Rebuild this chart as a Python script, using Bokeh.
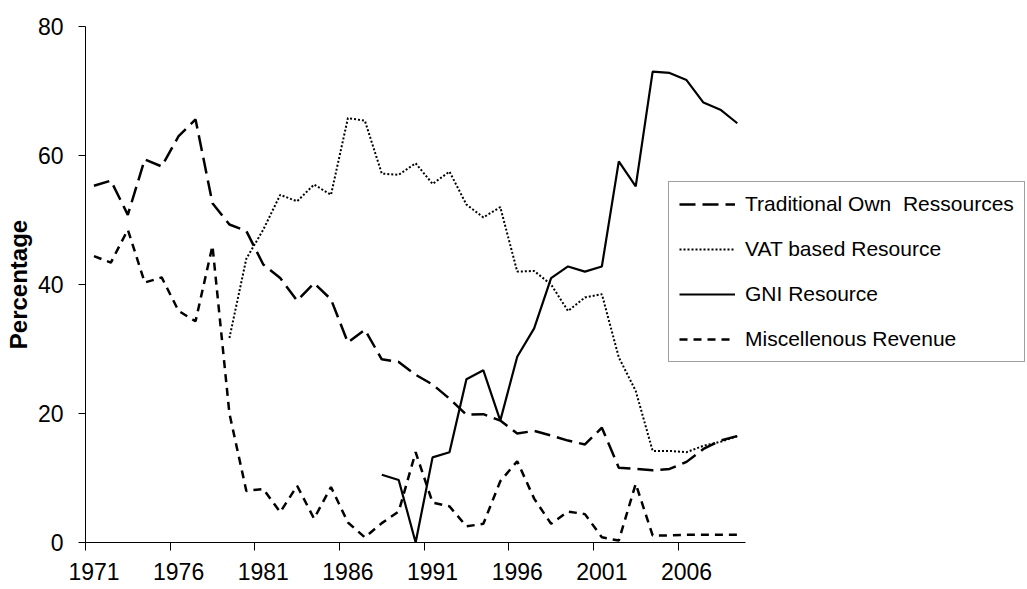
import math
from bokeh.plotting import figure
from bokeh.models import (ColumnDataSource, Range1d, FixedTicker, Legend, LegendItem)
from bokeh.embed import file_html
from bokeh.resources import INLINE

nan = math.nan

years = list(range(1971, 2010))

traditional = [55.3, 56.1, 50.8, 59.4, 58.3, 63.0, 65.6, 52.6, 49.3, 48.3,
               43.1, 41.0, 37.5, 40.2, 37.7, 31.0, 33.0, 28.4, 28.0, 26.0,
               24.5, 22.3, 19.8, 19.9, 18.9, 16.9, 17.3, 16.6, 15.8, 15.2,
               17.8, 11.6, 11.4, 11.2, 11.4, 12.5, 14.5, 15.8, 16.5]

vat = [nan] * 8 + [31.7, 44.0, 48.5, 53.9, 52.9, 55.5, 53.9, 65.8, 65.4, 57.2,
                   57.0, 58.8, 55.6, 57.5, 52.4, 50.4, 52.0, 42.0, 42.1, 40.0,
                   35.9, 38.0, 38.5, 28.7, 23.5, 14.2, 14.2, 14.0, 15.0, 15.6, 16.5]

gni = [nan] * 17 + [10.5, 9.7, 0.0, 13.2, 14.0, 25.3, 26.7, 18.9, 28.8, 33.2,
                    41.0, 42.8, 42.0, 42.8, 59.1, 55.2, 73.0, 72.8, 71.7, 68.2, 67.1, 65.0]

misc = [44.4, 43.4, 48.5, 40.3, 41.1, 35.9, 34.3, 46.0, 20.0, 8.0,
        8.3, 4.7, 8.8, 3.7, 8.6, 3.1, 0.8, 3.0, 4.8, 14.0,
        6.2, 5.6, 2.5, 2.9, 9.5, 12.6, 6.8, 2.9, 4.8, 4.4,
        0.8, 0.3, 9.1, 1.1, 1.1, 1.2, 1.2, 1.2, 1.2]

series_names = ["Traditional Own  Ressources", "VAT based Resource",
                "GNI Resource", "Miscellenous Revenue"]

x_label_years = [1971, 1976, 1981, 1986, 1991, 1996, 2001, 2006]
x_boundaries = [y - 0.5 for y in x_label_years]
y_ticks = [0, 20, 40, 60, 80]

src = ColumnDataSource(dict(year=years, trad=traditional, vat=vat, gni=gni, misc=misc))

FONT = "Liberation Sans"

# plot frame: left 85, top 26, bottom 542; x axis spans the 39 yearly categories
W, H = 1027, 589
LEFT, RIGHT, TOP, BOTTOM = 85, 2, 26, 47
px_per_year = 16.93
frame_w = W - LEFT - RIGHT
x_start = years[0] - 0.5
x_end = x_start + frame_w / px_per_year

p = figure(width=W, height=H, output_backend="svg", toolbar_location=None,
           x_range=Range1d(x_start, x_end), y_range=Range1d(0, 80),
           min_border_left=LEFT, min_border_right=RIGHT,
           min_border_top=TOP, min_border_bottom=BOTTOM)
p.outline_line_color = None
p.xgrid.visible = False
p.ygrid.visible = False
p.background_fill_color = "white"
p.border_fill_color = "white"

r1 = p.line("year", "trad", source=src, line_color="black", line_width=2.5, line_dash="16 7")
r2 = p.line("year", "vat", source=src, line_color="black", line_width=2, line_dash="2 2")
r3 = p.line("year", "gni", source=src, line_color="black", line_width=2.2)
r4 = p.line("year", "misc", source=src, line_color="black", line_width=2.5, line_dash="8 6")

# x axis: labels at category centres, tick marks at category boundaries
xa = p.xaxis[0]
xa.bounds = (years[0] - 0.5, years[-1] + 0.5)
xa.ticker = FixedTicker(ticks=x_label_years, minor_ticks=x_boundaries)
xa.major_tick_line_color = None
xa.major_tick_out = 8
xa.major_tick_in = 0
xa.minor_tick_out = 8
xa.minor_tick_in = 0
xa.minor_tick_line_color = "black"
xa.axis_line_color = "black"
xa.major_label_text_font = FONT
xa.major_label_text_font_size = "23px"
xa.major_label_text_color = "black"
xa.major_label_standoff = 12

ya = p.yaxis[0]
ya.ticker = FixedTicker(ticks=y_ticks)
ya.minor_tick_line_color = None
ya.major_tick_out = 7
ya.major_tick_in = 0
ya.axis_line_color = "black"
ya.major_tick_line_color = "black"
ya.major_label_text_font = FONT
ya.major_label_text_font_size = "23px"
ya.major_label_text_color = "black"
ya.major_label_standoff = 15
ya.axis_label = "Percentage"
ya.axis_label_text_font = FONT
ya.axis_label_text_font_size = "24px"
ya.axis_label_text_font_style = "bold"
ya.axis_label_text_color = "black"
ya.axis_label_standoff = 3

legend = Legend(items=[LegendItem(label=series_names[0], renderers=[r1]),
                       LegendItem(label=series_names[1], renderers=[r2]),
                       LegendItem(label=series_names[2], renderers=[r3]),
                       LegendItem(label=series_names[3], renderers=[r4])],
                location=(583, 180))
legend.padding = 10
legend.spacing = 21
legend.margin = 0
legend.label_height = 24
legend.glyph_height = 24
legend.glyph_width = 56
legend.label_standoff = 10
legend.label_text_font = FONT
legend.label_text_font_size = "21px"
legend.label_text_color = "black"
legend.border_line_color = "#404040"
legend.border_line_width = 1
legend.background_fill_color = "white"
legend.background_fill_alpha = 1.0
p.add_layout(legend)

open("out.html", "w").write(file_html(p, INLINE))
